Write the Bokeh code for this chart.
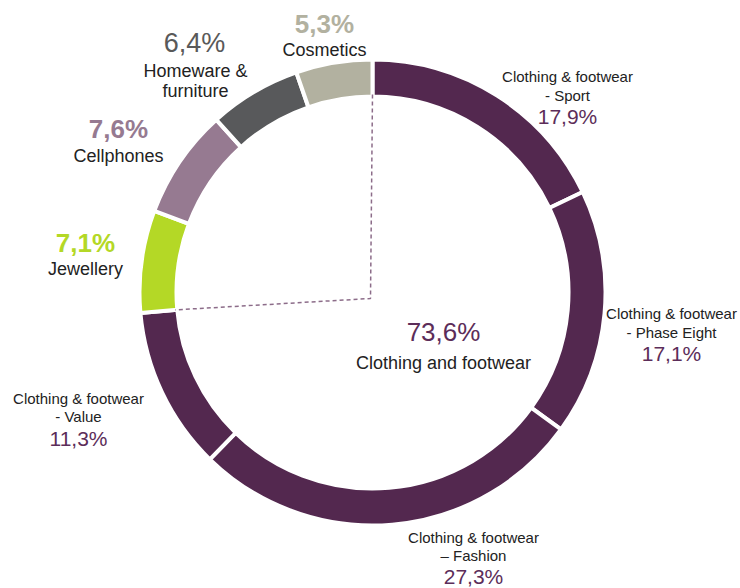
import numpy as np
from bokeh.plotting import figure
from bokeh.models import Range1d, ColumnDataSource
from bokeh.core.properties import value
from bokeh.embed import file_html
from bokeh.resources import INLINE

# ---- data ----
categories = ["Clothing & footwear - Sport", "Clothing & footwear - Phase Eight",
              "Clothing & footwear – Fashion", "Clothing & footwear - Value",
              "Jewellery", "Cellphones", "Homeware & furniture", "Cosmetics"]
shares = [17.9, 17.1, 27.3, 11.3, 7.1, 7.6, 6.4, 5.3]
pct_labels = ["17,9%", "17,1%", "27,3%", "11,3%", "7,1%", "7,6%", "6,4%", "5,3%"]
group_share = 73.6
group_label = "73,6%"
group_name = "Clothing and footwear"

PURPLE = "#53284F"
colors = [PURPLE, PURPLE, PURPLE, PURPLE, "#B4D826", "#967A91", "#58595B", "#B2B1A0"]

FONT = value("Liberation Sans")

W, H = 740, 588
p = figure(width=W, height=H, output_backend="svg", toolbar_location=None,
           x_range=Range1d(0, W), y_range=Range1d(0, H),
           match_aspect=False)
p.axis.visible = False
p.grid.visible = False
p.outline_line_color = None
p.min_border = 0
p.background_fill_color = "white"
p.border_fill_color = "white"

def Y(yimg):
    return H - yimg

cx, cy = 372, Y(292)
r_in, r_out = 196, 233

fr = np.array(shares) / sum(shares)
cum = np.concatenate([[0], np.cumsum(fr)])
start = np.pi / 2 - 2 * np.pi * cum[:-1]
end = np.pi / 2 - 2 * np.pi * cum[1:]

src = ColumnDataSource(dict(x=[cx] * len(shares), y=[cy] * len(shares),
                            start=start, end=end, color=colors))
p.annular_wedge(x="x", y="y", inner_radius=r_in, outer_radius=r_out,
                start_angle="start", end_angle="end", direction="clock",
                fill_color="color", line_color="white", line_width=4, source=src)

# dashed outline of the clothing group
a_end = np.pi / 2 - 2 * np.pi * group_share / 100
rin_vis = 198
corner = (cx - 2, cy - 6)
p.line([cx, corner[0], cx + rin_vis * np.cos(a_end)],
       [cy + rin_vis, corner[1], cy + rin_vis * np.sin(a_end)],
       line_color="#8C6C89", line_width=1.5, line_dash="4 3")

def txt(x, y, s, size, color="#222222", bold=False):
    p.text(x=[x], y=[Y(y)], text=[s], text_font=FONT, text_font_size=f"{size}px",
           text_color=color, text_align="center", text_baseline="middle",
           text_font_style="bold" if bold else "normal")

PTXT = "#5C2D59"
# clothing segments
txt(567, 76, "Clothing & footwear", 15)
txt(567, 95, "- Sport", 15)
txt(567, 116, pct_labels[0], 21, PTXT)

txt(671, 313, "Clothing & footwear", 15)
txt(671, 332, "- Phase Eight", 15)
txt(671, 353, pct_labels[1], 21, PTXT)

txt(473, 537, "Clothing & footwear", 15)
txt(473, 555, "– Fashion", 15)
txt(473, 576, pct_labels[2], 21, PTXT)

txt(78, 398, "Clothing & footwear", 15)
txt(78, 416, "- Value", 15)
txt(78, 438, pct_labels[3], 21, PTXT)

# other segments
txt(85, 242, pct_labels[4], 26, colors[4], bold=True)
txt(85, 268, "Jewellery", 18)

txt(118, 128, pct_labels[5], 26, colors[5], bold=True)
txt(118, 155, "Cellphones", 18)

txt(194, 42, pct_labels[6], 27, "#595959")
txt(195, 70, "Homeware &", 18)
txt(195, 90, "furniture", 18)

txt(324, 23, pct_labels[7], 26, colors[7], bold=True)
txt(324, 49, "Cosmetics", 18)

# center
txt(443, 331, group_label, 26, PTXT)
txt(443, 362, group_name, 18)

open("out.html", "w").write(file_html(p, INLINE))
